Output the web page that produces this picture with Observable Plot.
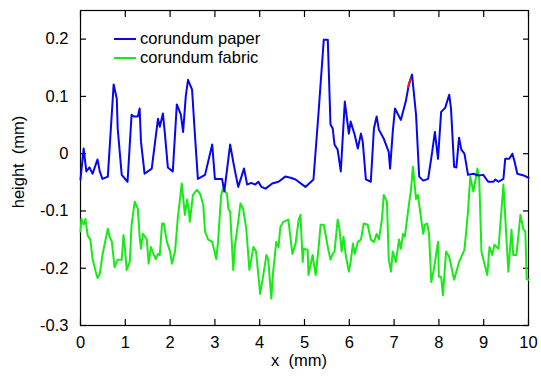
<!DOCTYPE html>
<html>
<head>
<meta charset="utf-8">
<script src="https://cdn.jsdelivr.net/npm/d3@7"></script>
<script src="https://cdn.jsdelivr.net/npm/@observablehq/plot@0.6"></script>
<style>
  html, body { margin: 0; padding: 0; background: #fff; }
  #chart svg { font-family: "Liberation Sans", Arial, Helvetica, sans-serif; }
</style>
</head>
<body>
<div id="chart"></div>
<script>
// Series names
const seriesNames = ["corundum paper", "corundum fabric"];
const seriesColors = ["#0606f0", "#18ea18"];

// corundum paper (x in mm, height in mm)
const paperX = [0.00,0.07,0.13,0.20,0.27,0.38,0.43,0.49,0.61,0.74,0.81,0.83,0.92,1.05,1.14,1.19,1.28,1.32,1.35,1.43,1.59,1.73,1.77,1.84,1.88,1.95,2.06,2.15,2.24,2.29,2.35,2.40,2.49,2.56,2.62,2.78,2.94,3.00,3.16,3.21,3.34,3.43,3.52,3.65,3.72,3.81,3.90,3.97,4.04,4.13,4.28,4.42,4.57,4.69,4.80,5.02,5.20,5.31,5.43,5.52,5.58,5.63,5.67,5.74,5.81,5.90,5.99,6.03,6.12,6.19,6.26,6.30,6.37,6.48,6.55,6.61,6.66,6.77,6.88,6.91,6.97,7.02,7.15,7.26,7.33,7.40,7.49,7.56,7.65,7.76,7.85,7.91,7.98,8.05,8.14,8.23,8.27,8.34,8.39,8.45,8.50,8.57,8.65,8.77,8.88,8.99,9.10,9.22,9.26,9.33,9.44,9.48,9.57,9.64,9.69,9.75,9.89,10.00];
const paperY = [-0.045,0.009,-0.031,-0.024,-0.035,-0.010,-0.031,-0.044,-0.040,0.121,0.096,0.044,-0.037,-0.049,0.068,0.065,0.065,0.079,0.021,-0.035,-0.026,0.061,0.047,0.070,0.038,-0.024,-0.031,0.086,0.068,0.038,0.100,0.129,0.112,0.026,-0.044,-0.037,0.016,-0.044,-0.044,-0.066,0.016,-0.023,-0.058,-0.026,-0.054,-0.051,-0.054,-0.049,-0.058,-0.061,-0.052,-0.049,-0.040,-0.042,-0.045,-0.058,-0.045,0.068,0.199,0.199,0.051,0.044,0.016,0.007,-0.031,0.091,0.035,0.056,0.033,0.009,0.035,0.021,-0.045,-0.049,0.044,0.065,0.042,0.026,0.003,-0.026,0.038,0.079,0.059,0.091,0.121,0.138,0.068,-0.040,-0.047,-0.044,0.003,0.038,-0.009,0.073,0.080,0.103,0.079,-0.023,-0.024,0.028,0.007,0.000,-0.037,-0.035,-0.038,-0.037,-0.049,-0.049,-0.045,-0.049,-0.044,-0.009,-0.009,0.000,-0.014,-0.035,-0.038,-0.042];

// short red piece on the paper trace
const redX = [7.31, 7.37];
const redY = [0.116, 0.131];

// corundum fabric
const fabricX = [0.00,0.02,0.07,0.11,0.16,0.22,0.27,0.34,0.38,0.43,0.49,0.56,0.61,0.65,0.70,0.76,0.83,0.92,0.96,0.99,1.03,1.10,1.14,1.21,1.28,1.32,1.35,1.39,1.48,1.52,1.57,1.61,1.68,1.73,1.77,1.82,1.86,1.93,2.00,2.04,2.11,2.17,2.26,2.33,2.38,2.42,2.44,2.51,2.60,2.67,2.74,2.78,2.85,2.94,3.03,3.07,3.14,3.18,3.27,3.30,3.34,3.41,3.45,3.52,3.57,3.63,3.70,3.77,3.86,3.92,4.01,4.08,4.15,4.19,4.26,4.30,4.37,4.42,4.46,4.53,4.64,4.73,4.80,4.87,4.91,4.96,4.98,5.07,5.09,5.18,5.25,5.31,5.36,5.43,5.52,5.58,5.63,5.67,5.74,5.78,5.83,5.87,5.92,5.99,6.03,6.08,6.12,6.19,6.26,6.32,6.41,6.48,6.55,6.61,6.66,6.73,6.77,6.84,6.88,6.93,6.97,7.04,7.11,7.15,7.20,7.24,7.31,7.38,7.42,7.49,7.53,7.56,7.65,7.69,7.74,7.78,7.83,7.89,7.98,8.00,8.05,8.09,8.16,8.23,8.34,8.45,8.57,8.65,8.70,8.77,8.86,8.90,8.95,8.99,9.08,9.13,9.19,9.24,9.33,9.44,9.55,9.62,9.66,9.73,9.82,9.89,9.93,9.96,10.00];
const fabricY = [-0.136,-0.114,-0.124,-0.114,-0.143,-0.150,-0.184,-0.206,-0.217,-0.210,-0.177,-0.150,-0.131,-0.145,-0.154,-0.198,-0.185,-0.185,-0.142,-0.163,-0.203,-0.189,-0.124,-0.084,-0.096,-0.145,-0.166,-0.140,-0.149,-0.192,-0.163,-0.171,-0.184,-0.175,-0.177,-0.122,-0.122,-0.154,-0.171,-0.192,-0.171,-0.114,-0.052,-0.107,-0.080,-0.101,-0.119,-0.072,-0.063,-0.070,-0.089,-0.136,-0.150,-0.154,-0.184,-0.154,-0.072,-0.061,-0.070,-0.096,-0.101,-0.203,-0.159,-0.119,-0.087,-0.096,-0.131,-0.203,-0.163,-0.171,-0.245,-0.212,-0.177,-0.185,-0.253,-0.206,-0.154,-0.163,-0.128,-0.119,-0.115,-0.175,-0.157,-0.115,-0.107,-0.189,-0.166,-0.168,-0.212,-0.177,-0.212,-0.168,-0.124,-0.124,-0.163,-0.185,-0.175,-0.171,-0.115,-0.131,-0.171,-0.145,-0.177,-0.206,-0.189,-0.157,-0.175,-0.154,-0.150,-0.122,-0.124,-0.150,-0.154,-0.140,-0.150,-0.114,-0.072,-0.084,-0.184,-0.206,-0.171,-0.189,-0.150,-0.166,-0.140,-0.145,-0.101,-0.061,-0.023,-0.079,-0.072,-0.089,-0.140,-0.124,-0.122,-0.140,-0.224,-0.201,-0.154,-0.215,-0.215,-0.247,-0.171,-0.180,-0.220,-0.189,-0.168,-0.101,-0.040,-0.066,-0.026,-0.044,-0.171,-0.184,-0.212,-0.163,-0.177,-0.159,-0.166,-0.054,-0.206,-0.133,-0.177,-0.177,-0.107,-0.133,-0.136,-0.219,-0.220];

// Axis ticks
const xTicks = [0,1,2,3,4,5,6,7,8,9,10];
const yTicks = [-0.3,-0.2,-0.1,0,0.1,0.2];
const xDomain = [0, 10];
const yDomain = [-0.3, 0.25];

const paper = paperX.map((x, i) => ({x, y: paperY[i]}));
const fabric = fabricX.map((x, i) => ({x, y: fabricY[i]}));
const red = redX.map((x, i) => ({x, y: redY[i]}));

const fmtY = d => d === 0 ? "0" : d.toFixed(1);
const fs = 16.5;

const chart = Plot.plot({
  width: 541,
  height: 379,
  marginLeft: 80,
  marginRight: 13,
  marginTop: 10,
  marginBottom: 54,
  style: {fontFamily: '"Liberation Sans", Arial, sans-serif', fontSize: fs + "px", color: "#000", background: "#fff"},
  x: {domain: xDomain},
  y: {domain: yDomain},
  marks: [
    Plot.frame({stroke: "#000", strokeWidth: 1.2}),
    // inward ticks on all four sides
    Plot.axisX(xTicks, {anchor: "bottom", tickSize: -6, tickFormat: () => "", label: null, strokeWidth: 1.2}),
    Plot.axisX(xTicks, {anchor: "top", tickSize: -6, tickFormat: () => "", label: null, strokeWidth: 1.2}),
    Plot.axisY(yTicks, {anchor: "left", tickSize: -6, tickFormat: () => "", label: null, strokeWidth: 1.2}),
    Plot.axisY(yTicks, {anchor: "right", tickSize: -6, tickFormat: () => "", label: null, strokeWidth: 1.2}),
    // labels
    Plot.axisX(xTicks, {anchor: "bottom", tickSize: 0, tickPadding: 11, fontSize: fs, label: null, tickFormat: d => String(d)}),
    Plot.axisY(yTicks, {anchor: "left", tickSize: 0, tickPadding: 12, tickFormat: fmtY, fontSize: fs, label: null}),
    Plot.line(fabric, {x: "x", y: "y", stroke: seriesColors[1], strokeWidth: 2}),
    Plot.line(paper, {x: "x", y: "y", stroke: seriesColors[0], strokeWidth: 2}),
    Plot.line(red, {x: "x", y: "y", stroke: "#ff1010", strokeWidth: 2})
  ]
});

document.getElementById("chart").appendChild(chart);

const svg = d3.select(chart);
// axis titles
svg.append("text")
  .attr("x", 299).attr("y", 366)
  .attr("text-anchor", "middle")
  .attr("font-size", fs).attr("fill", "#000")
  .text("x\u00a0 (mm)");
svg.append("text")
  .attr("transform", "translate(24,162) rotate(-90)")
  .attr("text-anchor", "middle")
  .attr("font-size", fs).attr("fill", "#000")
  .text("height\u00a0 (mm)");

// legend
const legend = svg.append("g").attr("text-anchor", "start");
seriesNames.forEach((name, i) => {
  const yy = 39 + i * 19;
  legend.append("line")
    .attr("x1", 114).attr("x2", 136).attr("y1", yy).attr("y2", yy)
    .attr("stroke", seriesColors[i]).attr("stroke-width", 2);
  legend.append("text")
    .attr("x", 140).attr("y", yy + 5)
    .attr("text-anchor", "start")
    .attr("font-size", 16.5).attr("fill", "#000")
    .text(name);
});
</script>
</body>
</html>
